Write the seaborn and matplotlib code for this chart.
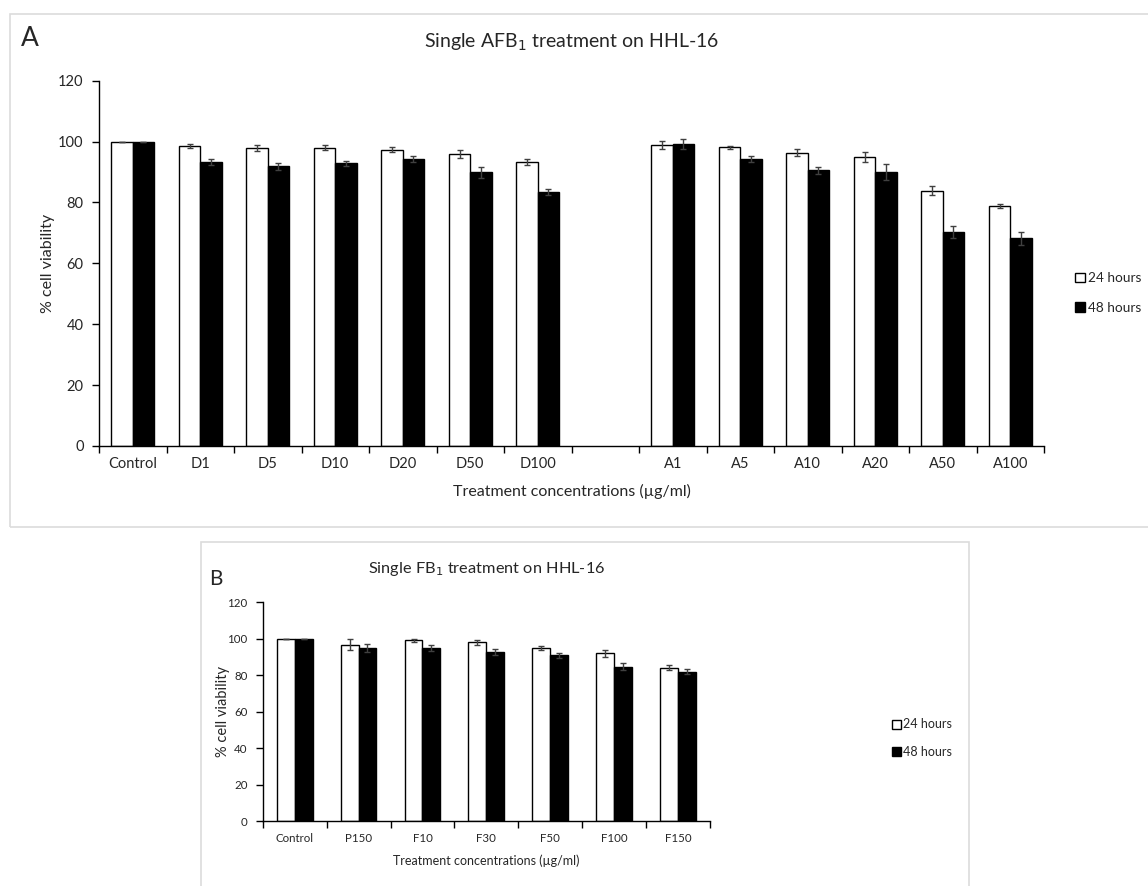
import pandas as pd
import seaborn as sns
import matplotlib.pyplot as plt
from matplotlib.patches import Rectangle, Patch
from matplotlib.ticker import FixedLocator, NullFormatter

# ---- data ----
times = ["24 hours", "48 hours"]

cats_a = ["Control", "D1", "D5", "D10", "D20", "D50", "D100",
          "A1", "A5", "A10", "A20", "A50", "A100"]
order_a = cats_a[:7] + [" "] + cats_a[7:]
a_24 = [100, 98.6, 97.9, 98.0, 97.3, 96.0, 93.3, 99.0, 98.1, 96.3, 95.0, 83.9, 78.8]
a_24_err = [0.0, 0.7, 1.0, 0.8, 0.8, 1.3, 1.0, 1.3, 0.6, 1.2, 1.7, 1.5, 0.7]
a_48 = [100, 93.3, 91.9, 92.9, 94.3, 89.9, 83.4, 99.1, 94.3, 90.6, 89.9, 70.2, 68.2]
a_48_err = [0.0, 1.1, 1.2, 0.8, 1.1, 1.7, 1.0, 1.7, 1.1, 1.1, 2.6, 2.0, 2.1]

cats_b = ["Control", "P150", "F10", "F30", "F50", "F100", "F150"]
b_24 = [100, 96.8, 99.1, 98.0, 94.9, 92.0, 84.1]
b_24_err = [0.0, 2.9, 1.0, 1.5, 0.9, 1.9, 1.3]
b_48 = [99.8, 94.9, 94.9, 92.7, 90.9, 84.7, 81.8]
b_48_err = [0.2, 2.0, 1.7, 1.5, 1.4, 1.9, 1.4]


def long_table(cats, v24, e24, v48, e48):
    rows = []
    for c, v, e in zip(cats, v24, e24):
        rows.append({"cat": c, "time": times[0], "val": v, "err": e})
    for c, v, e in zip(cats, v48, e48):
        rows.append({"cat": c, "time": times[1], "val": v, "err": e})
    return pd.DataFrame(rows)


df_a = long_table(cats_a, a_24, a_24_err, a_48, a_48_err)
df_b = long_table(cats_b, b_24, b_24_err, b_48, b_48_err)

sns.set_theme(style="white")
plt.rcParams["font.family"] = ["Lato", "DejaVu Sans"]
plt.rcParams["axes.unicode_minus"] = False

fig = plt.figure(figsize=(11.48, 8.86), dpi=100)

# light grey panel frames
fig.add_artist(Rectangle((10 / 1148, 1 - 526.5 / 886), 1.0, (526.5 - 14) / 886,
                         transform=fig.transFigure, fill=False,
                         edgecolor="#dcdcdc", lw=1.2))
fig.add_artist(Rectangle((201 / 1148, -0.01), (968.5 - 201) / 1148, 0.01 + (886 - 542) / 886,
                         transform=fig.transFigure, fill=False,
                         edgecolor="#dcdcdc", lw=1.2))

palette = {"24 hours": "white", "48 hours": "black"}


def draw_panel(ax, df, order, width, title, letter, letter_xy, title_y, leg_anchor,
               fs_tick, fs_xlab, fs_ylab, fs_title, fs_letter, fs_leg,
               xpad, ylpad, xlpad, leg_space):
    sns.barplot(data=df, x="cat", y="val", hue="time", order=order,
                hue_order=times, palette=palette, width=width, errorbar=None,
                edgecolor="black", linewidth=1.0, legend=False, ax=ax)

    # error bars from the drawn bar positions
    for cont, t in zip(ax.containers, times):
        sub = df[df["time"] == t].set_index("cat")
        present = [c for c in order if c in sub.index]
        for bar, c in zip(cont, present):
            x = bar.get_x() + bar.get_width() / 2
            ax.errorbar(x, sub.loc[c, "val"], yerr=sub.loc[c, "err"],
                        fmt="none", ecolor="#404040", elinewidth=1.0,
                        capsize=2.2, capthick=1.0)

    ax.set_ylim(0, 120)
    ax.set_xlim(-0.5, len(order) - 0.5)
    ax.set_yticks(range(0, 121, 20))
    ax.xaxis.set_minor_locator(FixedLocator([i - 0.5 for i in range(len(order) + 1)]))
    ax.xaxis.set_minor_formatter(NullFormatter())
    ax.tick_params(axis="x", which="major", length=0, pad=xpad, labelsize=fs_tick)
    ax.tick_params(axis="x", which="minor", length=5, width=1, color="black",
                   direction="out", bottom=True)
    ax.tick_params(axis="y", length=5, width=1, color="black", direction="out",
                   left=True, labelsize=fs_tick, pad=6)

    for s in ["top", "right"]:
        ax.spines[s].set_visible(False)
    for s in ["left", "bottom"]:
        ax.spines[s].set_color("black")
        ax.spines[s].set_linewidth(1.0)

    ax.set_xlabel("Treatment concentrations (\u00b5g/ml)", fontsize=fs_xlab, labelpad=xlpad)
    ax.set_ylabel("% cell viability", fontsize=fs_ylab, labelpad=ylpad)

    fig.text(0.5 * (ax.get_position().x0 + ax.get_position().x1), title_y, title,
             ha="center", va="center", fontsize=fs_title)
    fig.text(letter_xy[0], letter_xy[1], letter, ha="center", va="center", fontsize=fs_letter)

    handles = [Patch(facecolor=palette[t], edgecolor="black", lw=1.0) for t in times]
    ax.legend(handles, times, loc="center left", bbox_to_anchor=leg_anchor,
              bbox_transform=fig.transFigure, frameon=False, fontsize=fs_leg,
              handlelength=0.7, handleheight=0.7, handletextpad=0.2,
              labelspacing=leg_space, borderaxespad=0)


ax_a = fig.add_axes([99 / 1148, 1 - 446 / 886, (1044 - 99) / 1148, (446 - 80.7) / 886])
draw_panel(ax_a, df_a, order_a, 0.63,
           "Single AFB$_1$ treatment on HHL-16", "A",
           (30 / 1148, 1 - 38 / 886), 1 - 42 / 886,
           (1070 / 1148, 1 - 293 / 886),
           fs_tick=10.5, fs_xlab=11.5, fs_ylab=11.5, fs_title=14, fs_letter=19,
           fs_leg=9.8, xpad=8, ylpad=2, xlpad=9, leg_space=1.3)

ax_b = fig.add_axes([262.7 / 1148, 1 - 821 / 886, (710 - 262.7) / 1148, (821 - 602.3) / 886])
draw_panel(ax_b, df_b, cats_b, 0.56,
           "Single FB$_1$ treatment on HHL-16", "B",
           (216 / 1148, 1 - 579 / 886), 1 - 569 / 886,
           (887 / 1148, 1 - 738 / 886),
           fs_tick=8.3, fs_xlab=9, fs_ylab=10.5, fs_title=11.8, fs_letter=15,
           fs_leg=9, xpad=9, ylpad=-2, xlpad=7, leg_space=1.2)

fig.savefig("out.png", dpi=100, facecolor="white")
